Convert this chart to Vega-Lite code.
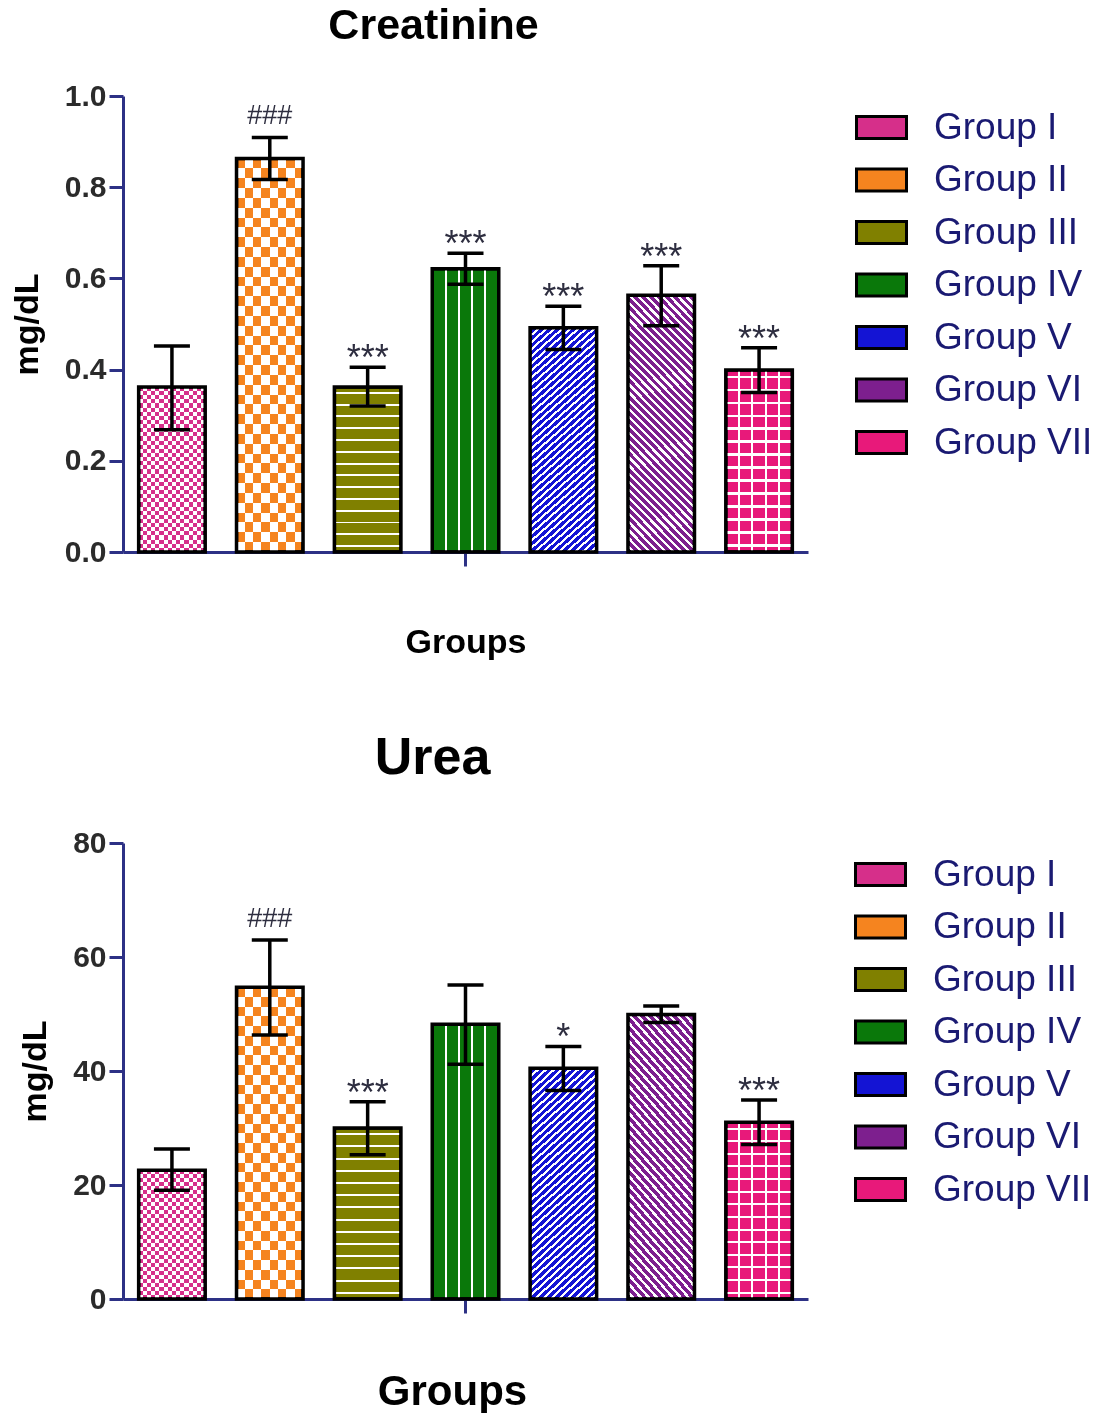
{
"$schema": "https://vega.github.io/schema/vega-lite/v6.json",
"background": "white",
"padding": {"left": 10, "top": 5, "right": 5, "bottom": 0},
"config": {"view": {"stroke": null}, "font": "Liberation Sans"},
"params": [
{"name":"mV5","value":{"gradient":"linear","x1":0,"y1":0,"x2":1,"y2":0,"stops":[{"offset":0.185,"color":"#000"},{"offset":0.185,"color":"#fff"},{"offset":0.215,"color":"#fff"},{"offset":0.215,"color":"#000"},{"offset":0.385,"color":"#000"},{"offset":0.385,"color":"#fff"},{"offset":0.415,"color":"#fff"},{"offset":0.415,"color":"#000"},{"offset":0.585,"color":"#000"},{"offset":0.585,"color":"#fff"},{"offset":0.615,"color":"#fff"},{"offset":0.615,"color":"#000"},{"offset":0.785,"color":"#000"},{"offset":0.785,"color":"#fff"},{"offset":0.815,"color":"#fff"},{"offset":0.815,"color":"#000"}]}},
{"name":"mH14","value":{"gradient":"linear","x1":0,"y1":0,"x2":0,"y2":1,"stops":[{"offset":0.03,"color":"#000"},{"offset":0.03,"color":"#fff"},{"offset":0.0414,"color":"#fff"},{"offset":0.0414,"color":"#000"},{"offset":0.1014,"color":"#000"},{"offset":0.1014,"color":"#fff"},{"offset":0.1129,"color":"#fff"},{"offset":0.1129,"color":"#000"},{"offset":0.1729,"color":"#000"},{"offset":0.1729,"color":"#fff"},{"offset":0.1843,"color":"#fff"},{"offset":0.1843,"color":"#000"},{"offset":0.2443,"color":"#000"},{"offset":0.2443,"color":"#fff"},{"offset":0.2557,"color":"#fff"},{"offset":0.2557,"color":"#000"},{"offset":0.3157,"color":"#000"},{"offset":0.3157,"color":"#fff"},{"offset":0.3271,"color":"#fff"},{"offset":0.3271,"color":"#000"},{"offset":0.3871,"color":"#000"},{"offset":0.3871,"color":"#fff"},{"offset":0.3986,"color":"#fff"},{"offset":0.3986,"color":"#000"},{"offset":0.4586,"color":"#000"},{"offset":0.4586,"color":"#fff"},{"offset":0.47,"color":"#fff"},{"offset":0.47,"color":"#000"},{"offset":0.53,"color":"#000"},{"offset":0.53,"color":"#fff"},{"offset":0.5414,"color":"#fff"},{"offset":0.5414,"color":"#000"},{"offset":0.6014,"color":"#000"},{"offset":0.6014,"color":"#fff"},{"offset":0.6129,"color":"#fff"},{"offset":0.6129,"color":"#000"},{"offset":0.6729,"color":"#000"},{"offset":0.6729,"color":"#fff"},{"offset":0.6843,"color":"#fff"},{"offset":0.6843,"color":"#000"},{"offset":0.7443,"color":"#000"},{"offset":0.7443,"color":"#fff"},{"offset":0.7557,"color":"#fff"},{"offset":0.7557,"color":"#000"},{"offset":0.8157,"color":"#000"},{"offset":0.8157,"color":"#fff"},{"offset":0.8271,"color":"#fff"},{"offset":0.8271,"color":"#000"},{"offset":0.8871,"color":"#000"},{"offset":0.8871,"color":"#fff"},{"offset":0.8986,"color":"#fff"},{"offset":0.8986,"color":"#000"},{"offset":0.9586,"color":"#000"},{"offset":0.9586,"color":"#fff"},{"offset":0.97,"color":"#fff"},{"offset":0.97,"color":"#000"}]}},
{"name":"mCkV16","value":{"gradient":"linear","x1":0,"y1":0,"x2":1,"y2":0,"stops":[{"offset":0.0625,"color":"#000"},{"offset":0.0625,"color":"#fff"},{"offset":0.125,"color":"#fff"},{"offset":0.125,"color":"#000"},{"offset":0.1875,"color":"#000"},{"offset":0.1875,"color":"#fff"},{"offset":0.25,"color":"#fff"},{"offset":0.25,"color":"#000"},{"offset":0.3125,"color":"#000"},{"offset":0.3125,"color":"#fff"},{"offset":0.375,"color":"#fff"},{"offset":0.375,"color":"#000"},{"offset":0.4375,"color":"#000"},{"offset":0.4375,"color":"#fff"},{"offset":0.5,"color":"#fff"},{"offset":0.5,"color":"#000"},{"offset":0.5625,"color":"#000"},{"offset":0.5625,"color":"#fff"},{"offset":0.625,"color":"#fff"},{"offset":0.625,"color":"#000"},{"offset":0.6875,"color":"#000"},{"offset":0.6875,"color":"#fff"},{"offset":0.75,"color":"#fff"},{"offset":0.75,"color":"#000"},{"offset":0.8125,"color":"#000"},{"offset":0.8125,"color":"#fff"},{"offset":0.875,"color":"#fff"},{"offset":0.875,"color":"#000"},{"offset":0.9375,"color":"#000"},{"offset":0.9375,"color":"#fff"}]}},
{"name":"mCkV8","value":{"gradient":"linear","x1":0,"y1":0,"x2":1,"y2":0,"stops":[{"offset":0.125,"color":"#000"},{"offset":0.125,"color":"#fff"},{"offset":0.25,"color":"#fff"},{"offset":0.25,"color":"#000"},{"offset":0.375,"color":"#000"},{"offset":0.375,"color":"#fff"},{"offset":0.5,"color":"#fff"},{"offset":0.5,"color":"#000"},{"offset":0.625,"color":"#000"},{"offset":0.625,"color":"#fff"},{"offset":0.75,"color":"#fff"},{"offset":0.75,"color":"#000"},{"offset":0.875,"color":"#000"},{"offset":0.875,"color":"#fff"}]}},
{"name":"mCkH40","value":{"gradient":"linear","x1":0,"y1":0,"x2":0,"y2":1,"stops":[{"offset":0.025,"color":"#000"},{"offset":0.025,"color":"#fff"},{"offset":0.05,"color":"#fff"},{"offset":0.05,"color":"#000"},{"offset":0.075,"color":"#000"},{"offset":0.075,"color":"#fff"},{"offset":0.1,"color":"#fff"},{"offset":0.1,"color":"#000"},{"offset":0.125,"color":"#000"},{"offset":0.125,"color":"#fff"},{"offset":0.15,"color":"#fff"},{"offset":0.15,"color":"#000"},{"offset":0.175,"color":"#000"},{"offset":0.175,"color":"#fff"},{"offset":0.2,"color":"#fff"},{"offset":0.2,"color":"#000"},{"offset":0.225,"color":"#000"},{"offset":0.225,"color":"#fff"},{"offset":0.25,"color":"#fff"},{"offset":0.25,"color":"#000"},{"offset":0.275,"color":"#000"},{"offset":0.275,"color":"#fff"},{"offset":0.3,"color":"#fff"},{"offset":0.3,"color":"#000"},{"offset":0.325,"color":"#000"},{"offset":0.325,"color":"#fff"},{"offset":0.35,"color":"#fff"},{"offset":0.35,"color":"#000"},{"offset":0.375,"color":"#000"},{"offset":0.375,"color":"#fff"},{"offset":0.4,"color":"#fff"},{"offset":0.4,"color":"#000"},{"offset":0.425,"color":"#000"},{"offset":0.425,"color":"#fff"},{"offset":0.45,"color":"#fff"},{"offset":0.45,"color":"#000"},{"offset":0.475,"color":"#000"},{"offset":0.475,"color":"#fff"},{"offset":0.5,"color":"#fff"},{"offset":0.5,"color":"#000"},{"offset":0.525,"color":"#000"},{"offset":0.525,"color":"#fff"},{"offset":0.55,"color":"#fff"},{"offset":0.55,"color":"#000"},{"offset":0.575,"color":"#000"},{"offset":0.575,"color":"#fff"},{"offset":0.6,"color":"#fff"},{"offset":0.6,"color":"#000"},{"offset":0.625,"color":"#000"},{"offset":0.625,"color":"#fff"},{"offset":0.65,"color":"#fff"},{"offset":0.65,"color":"#000"},{"offset":0.675,"color":"#000"},{"offset":0.675,"color":"#fff"},{"offset":0.7,"color":"#fff"},{"offset":0.7,"color":"#000"},{"offset":0.725,"color":"#000"},{"offset":0.725,"color":"#fff"},{"offset":0.75,"color":"#fff"},{"offset":0.75,"color":"#000"},{"offset":0.775,"color":"#000"},{"offset":0.775,"color":"#fff"},{"offset":0.8,"color":"#fff"},{"offset":0.8,"color":"#000"},{"offset":0.825,"color":"#000"},{"offset":0.825,"color":"#fff"},{"offset":0.85,"color":"#fff"},{"offset":0.85,"color":"#000"},{"offset":0.875,"color":"#000"},{"offset":0.875,"color":"#fff"},{"offset":0.9,"color":"#fff"},{"offset":0.9,"color":"#000"},{"offset":0.925,"color":"#000"},{"offset":0.925,"color":"#fff"},{"offset":0.95,"color":"#fff"},{"offset":0.95,"color":"#000"},{"offset":0.975,"color":"#000"},{"offset":0.975,"color":"#fff"}]}},
{"name":"mCkH32","value":{"gradient":"linear","x1":0,"y1":0,"x2":0,"y2":1,"stops":[{"offset":0.03125,"color":"#000"},{"offset":0.03125,"color":"#fff"},{"offset":0.0625,"color":"#fff"},{"offset":0.0625,"color":"#000"},{"offset":0.09375,"color":"#000"},{"offset":0.09375,"color":"#fff"},{"offset":0.125,"color":"#fff"},{"offset":0.125,"color":"#000"},{"offset":0.15625,"color":"#000"},{"offset":0.15625,"color":"#fff"},{"offset":0.1875,"color":"#fff"},{"offset":0.1875,"color":"#000"},{"offset":0.21875,"color":"#000"},{"offset":0.21875,"color":"#fff"},{"offset":0.25,"color":"#fff"},{"offset":0.25,"color":"#000"},{"offset":0.28125,"color":"#000"},{"offset":0.28125,"color":"#fff"},{"offset":0.3125,"color":"#fff"},{"offset":0.3125,"color":"#000"},{"offset":0.34375,"color":"#000"},{"offset":0.34375,"color":"#fff"},{"offset":0.375,"color":"#fff"},{"offset":0.375,"color":"#000"},{"offset":0.40625,"color":"#000"},{"offset":0.40625,"color":"#fff"},{"offset":0.4375,"color":"#fff"},{"offset":0.4375,"color":"#000"},{"offset":0.46875,"color":"#000"},{"offset":0.46875,"color":"#fff"},{"offset":0.5,"color":"#fff"},{"offset":0.5,"color":"#000"},{"offset":0.53125,"color":"#000"},{"offset":0.53125,"color":"#fff"},{"offset":0.5625,"color":"#fff"},{"offset":0.5625,"color":"#000"},{"offset":0.59375,"color":"#000"},{"offset":0.59375,"color":"#fff"},{"offset":0.625,"color":"#fff"},{"offset":0.625,"color":"#000"},{"offset":0.65625,"color":"#000"},{"offset":0.65625,"color":"#fff"},{"offset":0.6875,"color":"#fff"},{"offset":0.6875,"color":"#000"},{"offset":0.71875,"color":"#000"},{"offset":0.71875,"color":"#fff"},{"offset":0.75,"color":"#fff"},{"offset":0.75,"color":"#000"},{"offset":0.78125,"color":"#000"},{"offset":0.78125,"color":"#fff"},{"offset":0.8125,"color":"#fff"},{"offset":0.8125,"color":"#000"},{"offset":0.84375,"color":"#000"},{"offset":0.84375,"color":"#fff"},{"offset":0.875,"color":"#fff"},{"offset":0.875,"color":"#000"},{"offset":0.90625,"color":"#000"},{"offset":0.90625,"color":"#fff"},{"offset":0.9375,"color":"#fff"},{"offset":0.9375,"color":"#000"},{"offset":0.96875,"color":"#000"},{"offset":0.96875,"color":"#fff"}]}},
{"name":"stD","value":[{"offset":0,"color":"#fff"},{"offset":0.01,"color":"#fff"},{"offset":0.01,"color":"#000"},{"offset":0.025,"color":"#000"},{"offset":0.025,"color":"#fff"},{"offset":0.035,"color":"#fff"},{"offset":0.035,"color":"#000"},{"offset":0.05,"color":"#000"},{"offset":0.05,"color":"#fff"},{"offset":0.06,"color":"#fff"},{"offset":0.06,"color":"#000"},{"offset":0.075,"color":"#000"},{"offset":0.075,"color":"#fff"},{"offset":0.085,"color":"#fff"},{"offset":0.085,"color":"#000"},{"offset":0.1,"color":"#000"},{"offset":0.1,"color":"#fff"},{"offset":0.11,"color":"#fff"},{"offset":0.11,"color":"#000"},{"offset":0.125,"color":"#000"},{"offset":0.125,"color":"#fff"},{"offset":0.135,"color":"#fff"},{"offset":0.135,"color":"#000"},{"offset":0.15,"color":"#000"},{"offset":0.15,"color":"#fff"},{"offset":0.16,"color":"#fff"},{"offset":0.16,"color":"#000"},{"offset":0.175,"color":"#000"},{"offset":0.175,"color":"#fff"},{"offset":0.185,"color":"#fff"},{"offset":0.185,"color":"#000"},{"offset":0.2,"color":"#000"},{"offset":0.2,"color":"#fff"},{"offset":0.21,"color":"#fff"},{"offset":0.21,"color":"#000"},{"offset":0.225,"color":"#000"},{"offset":0.225,"color":"#fff"},{"offset":0.235,"color":"#fff"},{"offset":0.235,"color":"#000"},{"offset":0.25,"color":"#000"},{"offset":0.25,"color":"#fff"},{"offset":0.26,"color":"#fff"},{"offset":0.26,"color":"#000"},{"offset":0.275,"color":"#000"},{"offset":0.275,"color":"#fff"},{"offset":0.285,"color":"#fff"},{"offset":0.285,"color":"#000"},{"offset":0.3,"color":"#000"},{"offset":0.3,"color":"#fff"},{"offset":0.31,"color":"#fff"},{"offset":0.31,"color":"#000"},{"offset":0.325,"color":"#000"},{"offset":0.325,"color":"#fff"},{"offset":0.335,"color":"#fff"},{"offset":0.335,"color":"#000"},{"offset":0.35,"color":"#000"},{"offset":0.35,"color":"#fff"},{"offset":0.36,"color":"#fff"},{"offset":0.36,"color":"#000"},{"offset":0.375,"color":"#000"},{"offset":0.375,"color":"#fff"},{"offset":0.385,"color":"#fff"},{"offset":0.385,"color":"#000"},{"offset":0.4,"color":"#000"},{"offset":0.4,"color":"#fff"},{"offset":0.41,"color":"#fff"},{"offset":0.41,"color":"#000"},{"offset":0.425,"color":"#000"},{"offset":0.425,"color":"#fff"},{"offset":0.435,"color":"#fff"},{"offset":0.435,"color":"#000"},{"offset":0.45,"color":"#000"},{"offset":0.45,"color":"#fff"},{"offset":0.46,"color":"#fff"},{"offset":0.46,"color":"#000"},{"offset":0.475,"color":"#000"},{"offset":0.475,"color":"#fff"},{"offset":0.485,"color":"#fff"},{"offset":0.485,"color":"#000"},{"offset":0.5,"color":"#000"},{"offset":0.5,"color":"#fff"},{"offset":0.51,"color":"#fff"},{"offset":0.51,"color":"#000"},{"offset":0.525,"color":"#000"},{"offset":0.525,"color":"#fff"},{"offset":0.535,"color":"#fff"},{"offset":0.535,"color":"#000"},{"offset":0.55,"color":"#000"},{"offset":0.55,"color":"#fff"},{"offset":0.56,"color":"#fff"},{"offset":0.56,"color":"#000"},{"offset":0.575,"color":"#000"},{"offset":0.575,"color":"#fff"},{"offset":0.585,"color":"#fff"},{"offset":0.585,"color":"#000"},{"offset":0.6,"color":"#000"},{"offset":0.6,"color":"#fff"},{"offset":0.61,"color":"#fff"},{"offset":0.61,"color":"#000"},{"offset":0.625,"color":"#000"},{"offset":0.625,"color":"#fff"},{"offset":0.635,"color":"#fff"},{"offset":0.635,"color":"#000"},{"offset":0.65,"color":"#000"},{"offset":0.65,"color":"#fff"},{"offset":0.66,"color":"#fff"},{"offset":0.66,"color":"#000"},{"offset":0.675,"color":"#000"},{"offset":0.675,"color":"#fff"},{"offset":0.685,"color":"#fff"},{"offset":0.685,"color":"#000"},{"offset":0.7,"color":"#000"},{"offset":0.7,"color":"#fff"},{"offset":0.71,"color":"#fff"},{"offset":0.71,"color":"#000"},{"offset":0.725,"color":"#000"},{"offset":0.725,"color":"#fff"},{"offset":0.735,"color":"#fff"},{"offset":0.735,"color":"#000"},{"offset":0.75,"color":"#000"},{"offset":0.75,"color":"#fff"},{"offset":0.76,"color":"#fff"},{"offset":0.76,"color":"#000"},{"offset":0.775,"color":"#000"},{"offset":0.775,"color":"#fff"},{"offset":0.785,"color":"#fff"},{"offset":0.785,"color":"#000"},{"offset":0.8,"color":"#000"},{"offset":0.8,"color":"#fff"},{"offset":0.81,"color":"#fff"},{"offset":0.81,"color":"#000"},{"offset":0.825,"color":"#000"},{"offset":0.825,"color":"#fff"},{"offset":0.835,"color":"#fff"},{"offset":0.835,"color":"#000"},{"offset":0.85,"color":"#000"},{"offset":0.85,"color":"#fff"},{"offset":0.86,"color":"#fff"},{"offset":0.86,"color":"#000"},{"offset":0.875,"color":"#000"},{"offset":0.875,"color":"#fff"},{"offset":0.885,"color":"#fff"},{"offset":0.885,"color":"#000"},{"offset":0.9,"color":"#000"},{"offset":0.9,"color":"#fff"},{"offset":0.91,"color":"#fff"},{"offset":0.91,"color":"#000"},{"offset":0.925,"color":"#000"},{"offset":0.925,"color":"#fff"},{"offset":0.935,"color":"#fff"},{"offset":0.935,"color":"#000"},{"offset":0.95,"color":"#000"},{"offset":0.95,"color":"#fff"},{"offset":0.96,"color":"#fff"},{"offset":0.96,"color":"#000"},{"offset":0.975,"color":"#000"},{"offset":0.975,"color":"#fff"},{"offset":0.985,"color":"#fff"},{"offset":0.985,"color":"#000"},{"offset":1,"color":"#000"}]},
{"name":"mDR","expr":"{gradient:'linear',x1:0,y1:0,x2:0.312,y2:1.182,stops:stD}"},
{"name":"mDL","expr":"{gradient:'linear',x1:1,y1:0,x2:0.688,y2:1.182,stops:stD}"}
],
"columns": 1,
"align": "none",
"spacing": 72,
"resolve": {"scale": {"color": "independent", "x": "independent", "y": "independent"}, "legend": {"color": "independent"}},
"concat": [
{
"width": 685, "height": 456,
"title": {"text": "Creatinine", "fontSize": 43, "fontWeight": "bold", "font": "Liberation Sans", "color": "#000", "anchor": "middle", "dx": -32, "offset": -1, "baseline": "alphabetic"},
"data": {"values": [
{"g":"Group I","v":0.362,"lo":0.268,"hi":0.452,"lab":""},
{"g":"Group II","v":0.863,"lo":0.817,"hi":0.909,"lab":"###"},
{"g":"Group III","v":0.362,"lo":0.32,"hi":0.405,"lab":"***"},
{"g":"Group IV","v":0.621,"lo":0.587,"hi":0.655,"lab":"***"},
{"g":"Group V","v":0.492,"lo":0.444,"hi":0.539,"lab":"***"},
{"g":"Group VI","v":0.563,"lo":0.496,"hi":0.628,"lab":"***"},
{"g":"Group VII","v":0.399,"lo":0.35,"hi":0.448,"lab":"***"}
]},
"encoding": {
"x": {"field": "g", "type": "nominal", "sort": null, "scale": {"domain": ["Group I","Group II","Group III","Group IV","Group V","Group VI","Group VII"], "paddingInner": 0.32, "paddingOuter": 0.16},
 "axis": {"title": "Groups", "values": ["Group IV"], "labels": false, "tickSize": 14, "tickWidth": 3, "tickColor": "#2d3185", "domainColor": "#2d3185", "domainWidth": 3, "titleFontSize": 34, "titleFontWeight": "bold", "titleColor": "#000", "titleFont": "Liberation Sans", "titlePadding": 58}},
"y": {"field": "v", "type": "quantitative", "scale": {"domain": [0, 1], "nice": false},
 "axis": {"title": "mg/dL", "values": [0, 0.2, 0.4, 0.6, 0.8, 1], "format": ".1f", "grid": false, "tickSize": 14, "tickWidth": 3, "tickColor": "#2d3185", "domainColor": "#2d3185", "domainWidth": 3, "labelFontSize": 30, "labelFontWeight": "bold", "labelColor": "#2b2b2b", "labelFont": "Liberation Sans", "labelPadding": 3, "titleFontSize": 34, "titleFontWeight": "bold", "titleColor": "#000", "titleFont": "Liberation Sans", "titlePadding": 20}}
},
"layer": [
{"transform": [{"filter": "datum.g === 'Group I'"}], "mark": {"type": "bar", "fill": {"expr": "mCkV16"}}},
{"transform": [{"filter": "datum.g === 'Group II'"}], "mark": {"type": "bar", "fill": {"expr": "mCkV8"}}},
{"transform": [{"filter": "datum.g === 'Group III'"}], "mark": {"type": "bar", "fill": {"expr": "mH14"}}},
{"transform": [{"filter": "datum.g === 'Group IV' || datum.g === 'Group VII'"}], "mark": {"type": "bar", "fill": {"expr": "mV5"}}},
{"transform": [{"filter": "datum.g === 'Group V'"}], "mark": {"type": "bar", "fill": {"expr": "mDR"}}},
{"transform": [{"filter": "datum.g === 'Group VI'"}], "mark": {"type": "bar", "fill": {"expr": "mDL"}}},
{"transform": [{"filter": "datum.g === 'Group I' || datum.g === 'Group II'"}], "mark": {"type": "bar", "fill": {"expr": "mCkH40"}, "blend": "difference"}},
{"transform": [{"filter": "datum.g === 'Group VII'"}], "mark": {"type": "bar", "fill": {"expr": "mH14"}, "blend": "lighten"}},
{"mark": {"type": "bar", "blend": "screen", "stroke": "#000", "strokeWidth": 3.5},
 "encoding": {"color": {"field": "g", "type": "nominal", "scale": {"domain": ["Group I","Group II","Group III","Group IV","Group V","Group VI","Group VII"], "range": ["#d62f8a","#f5841f","#808000","#0a780a","#1414d4","#7d1f8e","#e8197a"]},
  "legend": {"orient": "none", "legendX": 732, "legendY": 5, "title": null, "symbolType": "M-1,-0.44H1V0.44H-1Z", "symbolSize": 2500, "symbolStrokeColor": "#000", "symbolStrokeWidth": 3, "symbolOpacity": 1, "labelFont": "Liberation Sans", "labelFontSize": 37, "labelColor": "#1a1a72", "labelOffset": 26, "rowPadding": 7.5, "padding": 0, "labelLimit": 300}}}},
{"mark": {"type": "bar", "fill": "transparent", "stroke": "#000", "strokeWidth": 3.5}},
{"mark": {"type": "rule", "color": "#000", "strokeWidth": 3.5}, "encoding": {"y": {"field": "lo", "type": "quantitative"}, "y2": {"field": "hi"}}},
{"mark": {"type": "tick", "color": "#000", "size": 36, "thickness": 3.5, "opacity": 1}, "encoding": {"y": {"field": "hi", "type": "quantitative"}}},
{"mark": {"type": "tick", "color": "#000", "size": 36, "thickness": 3.5, "opacity": 1}, "encoding": {"y": {"field": "lo", "type": "quantitative"}}},
{"transform": [{"filter": "datum.lab === '###'"}], "mark": {"type": "text", "font": "Liberation Sans", "fontSize": 27, "color": "#2e2e40", "dy": -13, "baseline": "alphabetic"}, "encoding": {"y": {"field": "hi", "type": "quantitative"}, "text": {"field": "lab"}}},
{"transform": [{"filter": "datum.lab === '***' || datum.lab === '*'"}], "mark": {"type": "text", "font": "Liberation Sans", "fontSize": 36, "color": "#2e2e40", "dy": 3, "baseline": "alphabetic"}, "encoding": {"y": {"field": "hi", "type": "quantitative"}, "text": {"field": "lab"}}}
]
},
{
"width": 685, "height": 456,
"title": {"text": "Urea", "fontSize": 52, "fontWeight": "bold", "font": "Liberation Sans", "color": "#000", "anchor": "middle", "dx": -33, "offset": 2, "baseline": "alphabetic"},
"data": {"values": [
{"g":"Group I","v":22.6,"lo":19.1,"hi":26.3,"lab":""},
{"g":"Group II","v":54.7,"lo":46.3,"hi":63.0,"lab":"###"},
{"g":"Group III","v":30.0,"lo":25.3,"hi":34.6,"lab":"***"},
{"g":"Group IV","v":48.2,"lo":41.2,"hi":55.1,"lab":""},
{"g":"Group V","v":40.5,"lo":36.6,"hi":44.3,"lab":"*"},
{"g":"Group VI","v":49.9,"lo":48.5,"hi":51.4,"lab":""},
{"g":"Group VII","v":31.0,"lo":27.1,"hi":34.9,"lab":"***"}
]},
"encoding": {
"x": {"field": "g", "type": "nominal", "sort": null, "scale": {"domain": ["Group I","Group II","Group III","Group IV","Group V","Group VI","Group VII"], "paddingInner": 0.32, "paddingOuter": 0.16},
 "axis": {"title": "Groups", "values": ["Group IV"], "labels": false, "tickSize": 14, "tickWidth": 3, "tickColor": "#2d3185", "domainColor": "#2d3185", "domainWidth": 3, "titleFontSize": 42, "titleFontWeight": "bold", "titleColor": "#000", "titleFont": "Liberation Sans", "titlePadding": 57, "titleX": 329}},
"y": {"field": "v", "type": "quantitative", "scale": {"domain": [0, 80], "nice": false},
 "axis": {"title": "mg/dL", "values": [0, 20, 40, 60, 80], "format": "d", "grid": false, "tickSize": 14, "tickWidth": 3, "tickColor": "#2d3185", "domainColor": "#2d3185", "domainWidth": 3, "labelFontSize": 30, "labelFontWeight": "bold", "labelColor": "#2b2b2b", "labelFont": "Liberation Sans", "labelPadding": 3, "titleFontSize": 34, "titleFontWeight": "bold", "titleColor": "#000", "titleFont": "Liberation Sans", "titlePadding": 20}}
},
"layer": [
{"transform": [{"filter": "datum.g === 'Group I'"}], "mark": {"type": "bar", "fill": {"expr": "mCkV16"}}},
{"transform": [{"filter": "datum.g === 'Group II'"}], "mark": {"type": "bar", "fill": {"expr": "mCkV8"}}},
{"transform": [{"filter": "datum.g === 'Group III'"}], "mark": {"type": "bar", "fill": {"expr": "mH14"}}},
{"transform": [{"filter": "datum.g === 'Group IV' || datum.g === 'Group VII'"}], "mark": {"type": "bar", "fill": {"expr": "mV5"}}},
{"transform": [{"filter": "datum.g === 'Group V'"}], "mark": {"type": "bar", "fill": {"expr": "mDR"}}},
{"transform": [{"filter": "datum.g === 'Group VI'"}], "mark": {"type": "bar", "fill": {"expr": "mDL"}}},
{"transform": [{"filter": "datum.g === 'Group I' || datum.g === 'Group II'"}], "mark": {"type": "bar", "fill": {"expr": "mCkH32"}, "blend": "difference"}},
{"transform": [{"filter": "datum.g === 'Group VII'"}], "mark": {"type": "bar", "fill": {"expr": "mH14"}, "blend": "lighten"}},
{"mark": {"type": "bar", "blend": "screen", "stroke": "#000", "strokeWidth": 3.5},
 "encoding": {"color": {"field": "g", "type": "nominal", "scale": {"domain": ["Group I","Group II","Group III","Group IV","Group V","Group VI","Group VII"], "range": ["#d62f8a","#f5841f","#808000","#0a780a","#1414d4","#7d1f8e","#e8197a"]},
  "legend": {"orient": "none", "legendX": 731, "legendY": 5, "title": null, "symbolType": "M-1,-0.44H1V0.44H-1Z", "symbolSize": 2500, "symbolStrokeColor": "#000", "symbolStrokeWidth": 3, "symbolOpacity": 1, "labelFont": "Liberation Sans", "labelFontSize": 37, "labelColor": "#1a1a72", "labelOffset": 26, "rowPadding": 7.5, "padding": 0, "labelLimit": 300}}}},
{"mark": {"type": "bar", "fill": "transparent", "stroke": "#000", "strokeWidth": 3.5}},
{"mark": {"type": "rule", "color": "#000", "strokeWidth": 3.5}, "encoding": {"y": {"field": "lo", "type": "quantitative"}, "y2": {"field": "hi"}}},
{"mark": {"type": "tick", "color": "#000", "size": 36, "thickness": 3.5, "opacity": 1}, "encoding": {"y": {"field": "hi", "type": "quantitative"}}},
{"mark": {"type": "tick", "color": "#000", "size": 36, "thickness": 3.5, "opacity": 1}, "encoding": {"y": {"field": "lo", "type": "quantitative"}}},
{"transform": [{"filter": "datum.lab === '###'"}], "mark": {"type": "text", "font": "Liberation Sans", "fontSize": 27, "color": "#2e2e40", "dy": -13, "baseline": "alphabetic"}, "encoding": {"y": {"field": "hi", "type": "quantitative"}, "text": {"field": "lab"}}},
{"transform": [{"filter": "datum.lab === '***' || datum.lab === '*'"}], "mark": {"type": "text", "font": "Liberation Sans", "fontSize": 36, "color": "#2e2e40", "dy": 3, "baseline": "alphabetic"}, "encoding": {"y": {"field": "hi", "type": "quantitative"}, "text": {"field": "lab"}}}
]
}
]
}
